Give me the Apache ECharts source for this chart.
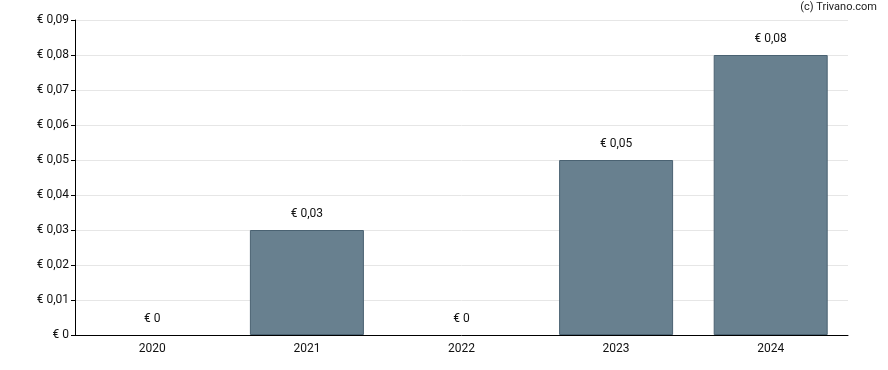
<!DOCTYPE html>
<html><head><meta charset="utf-8">
<script src="https://cdn.jsdelivr.net/npm/echarts@6/dist/echarts.min.js"></script>
<style>html,body{margin:0;padding:0;background:#fff}#c{width:888px;height:370px}</style>
</head><body><div id="c"></div>
<script>
const categories = ['2020','2021','2022','2023','2024'];
const values = [0, 0.03, 0, 0.05, 0.08];
const yTicks = [0,0.01,0.02,0.03,0.04,0.05,0.06,0.07,0.08,0.09];
const fmt = v => '€ ' + (v === 0 ? '0' : v.toFixed(2).replace('.', ','));
const chart = echarts.init(document.getElementById('c'));
chart.setOption({
  animation: false,
  textStyle: {fontFamily: 'Roboto'},
  graphic: [{type:'text', right: 11, top: 2, style:{text:'(c) Trivano.com', fill:'#222', font:'11px Roboto'}}],
  grid: {left: 75, right: 40, top: 20, bottom: 35, containLabel: false},
  xAxis: {
    type: 'category', data: categories,
    axisLine: {lineStyle: {color: '#000', width: 1}},
    axisTick: {alignWithLabel: true, length: 4, lineStyle: {color: '#000'}},
    axisLabel: {color: '#111', fontSize: 12, margin: 8}
  },
  yAxis: {
    type: 'value', min: 0, max: yTicks[yTicks.length-1], interval: 0.01,
    axisLine: {show: true, lineStyle: {color: '#000', width: 1}},
    axisTick: {show: true, length: 4, lineStyle: {color: '#000'}},
    axisLabel: {color: '#111', fontSize: 12, margin: 6, formatter: v => fmt(Math.round(v*100)/100)},
    splitLine: {lineStyle: {color: '#e6e6e6'}}
  },
  series: [{
    type: 'bar', barWidth: 114,
    data: values.map(v => ({value: v, itemStyle: {borderWidth: v === 0 ? 0 : 1}})),
    itemStyle: {color: '#68808f', borderColor: '#4a6272', borderWidth: 1},
    label: {show: true, position: 'top', distance: 10, color: '#111', fontSize: 12, formatter: p => fmt(p.value)}
  }]
});
</script></body></html>
